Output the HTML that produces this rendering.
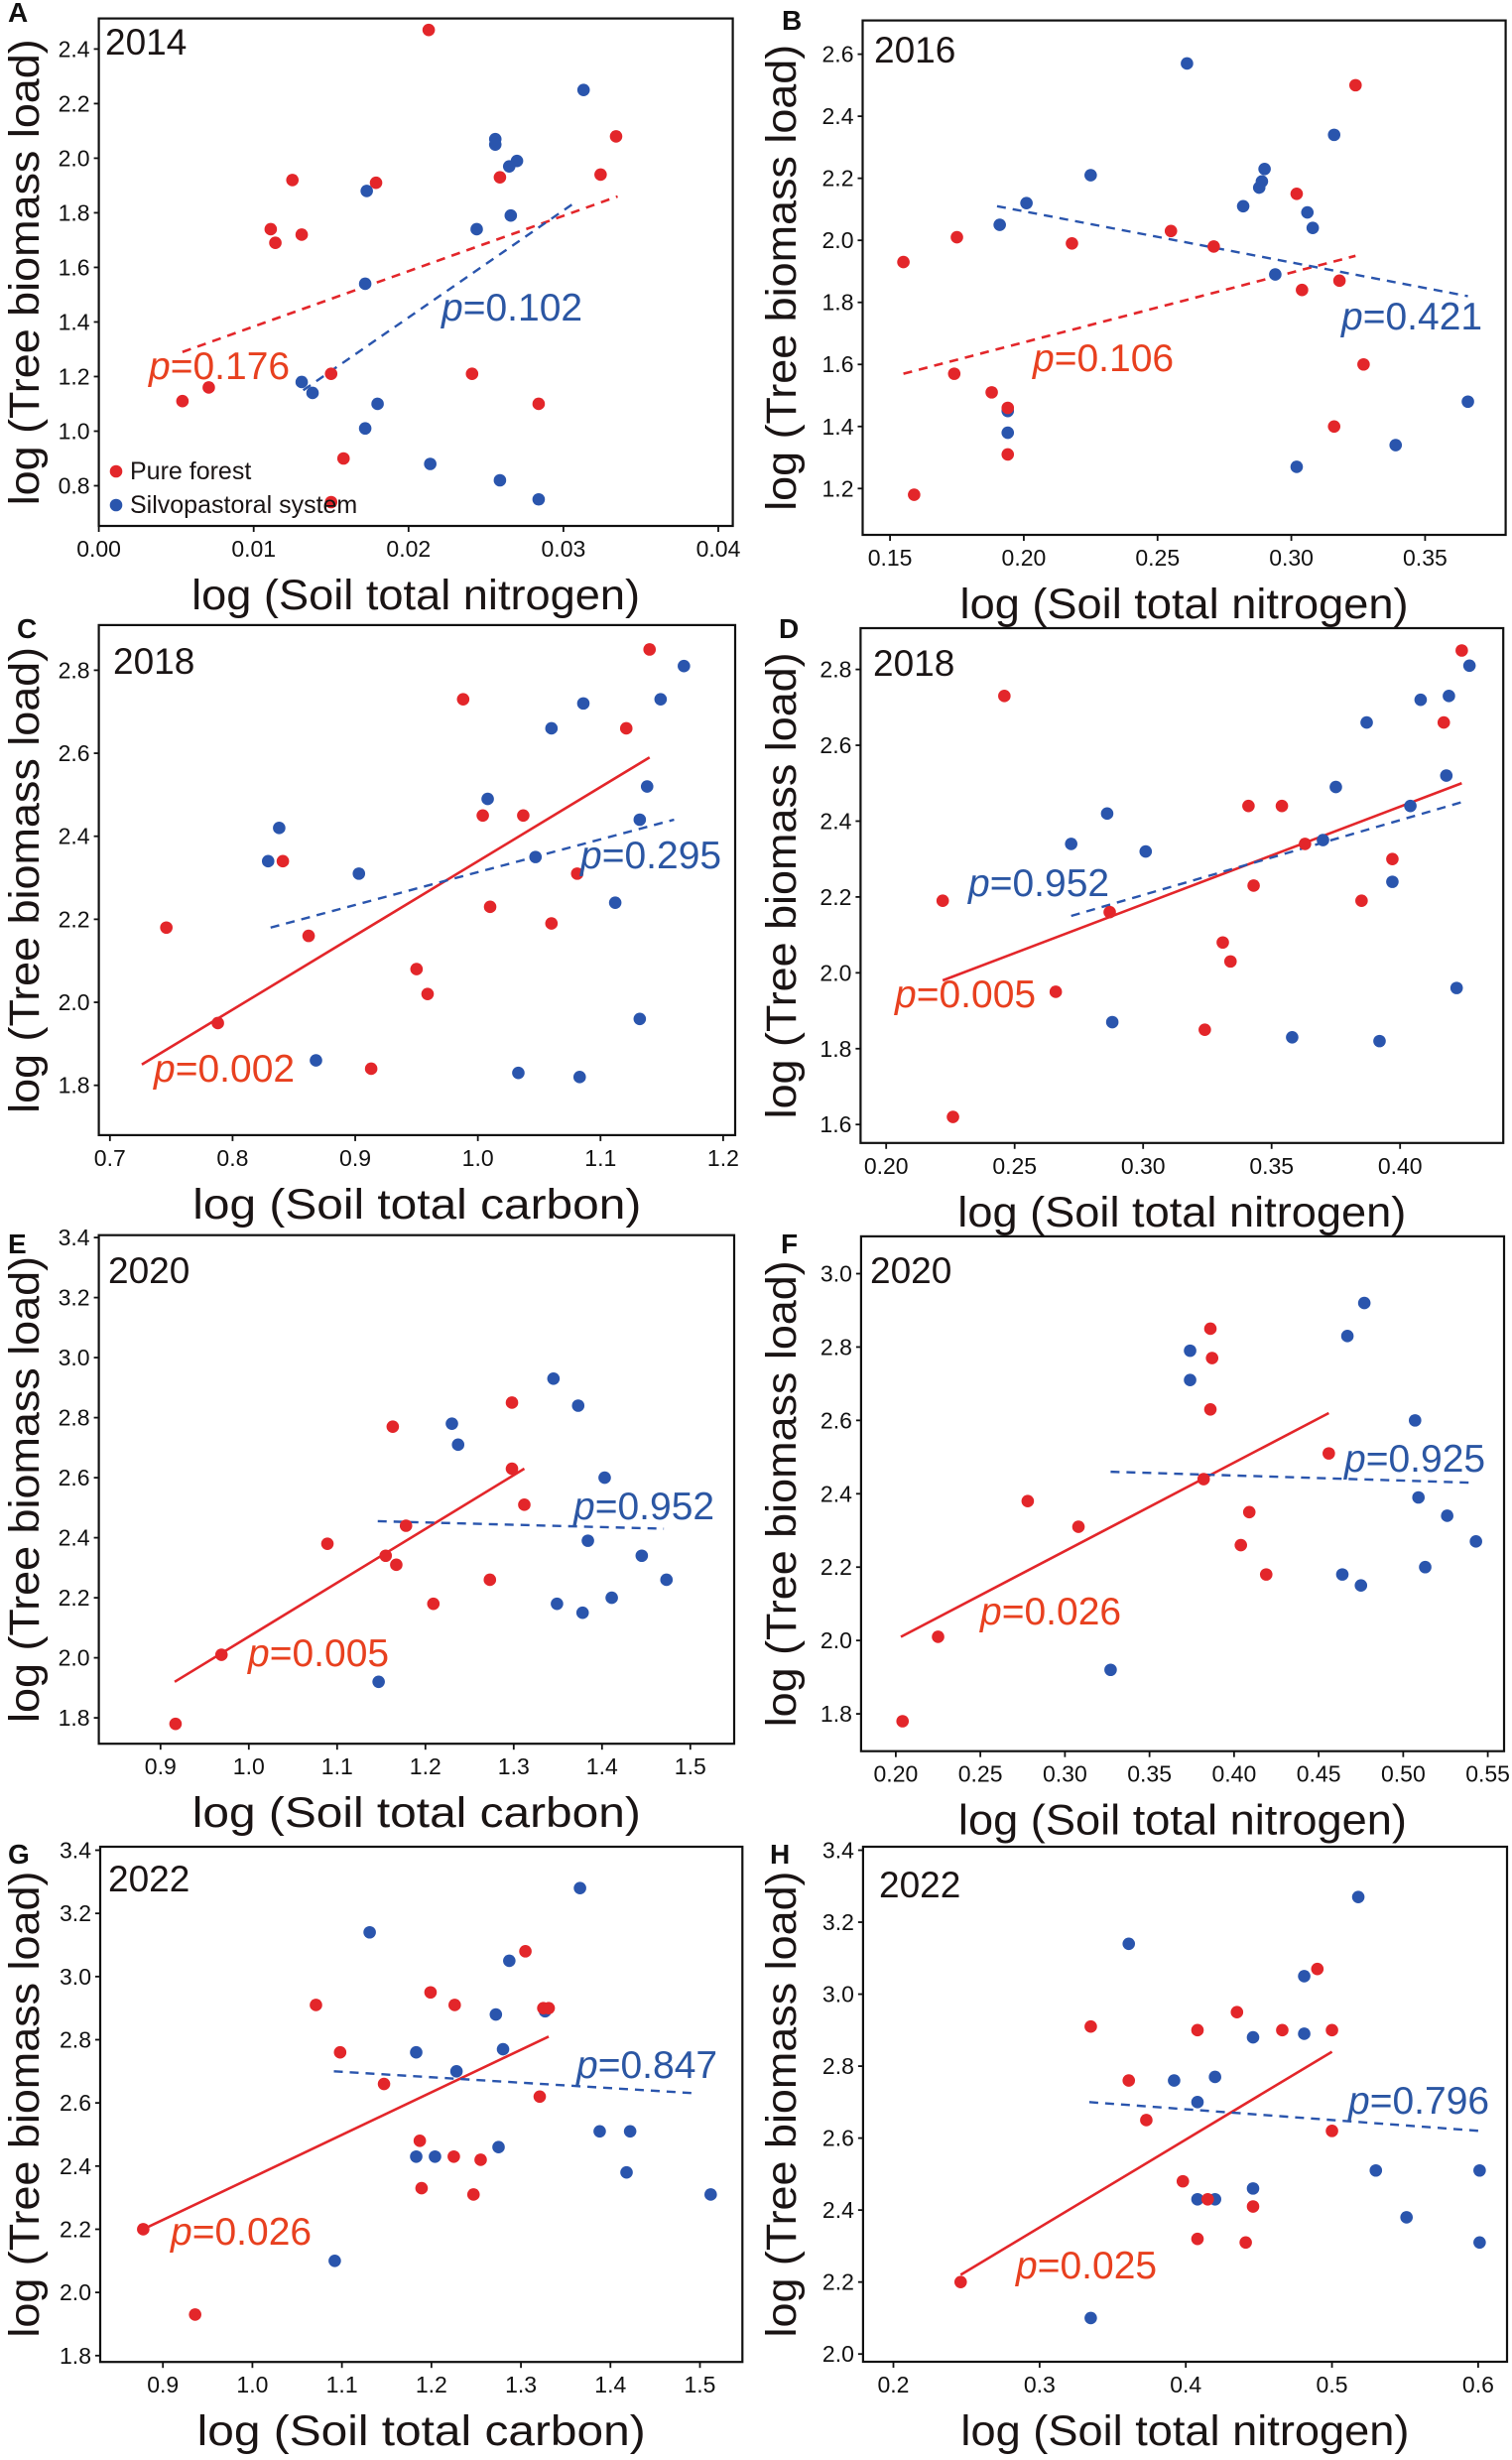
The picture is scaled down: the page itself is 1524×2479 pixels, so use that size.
<!DOCTYPE html>
<html>
<head>
<meta charset="utf-8">
<style>
html,body{margin:0;padding:0;background:#fff;}
svg{display:block;font-family:"Liberation Sans",Arial,sans-serif;}
</style>
</head>
<body>
<svg id="fig" xmlns="http://www.w3.org/2000/svg" width="1524" height="2479" viewBox="0 0 1524 2479">
<rect x="0" y="0" width="1524" height="2479" fill="#fff"/>
</svg>
<script>
// ---------- DATA ----------
// Panel A (2014, soil N)
const aRedX = [0.0213,0.0334,0.0324,0.0259,0.0179,0.0125,0.0111,0.0114,0.0131,0.0150,0.0241,0.0071,0.0054,0.0284,0.0158,0.0150];
const aRedY = [2.47,2.08,1.94,1.93,1.91,1.92,1.74,1.69,1.72,1.21,1.21,1.16,1.11,1.10,0.90,0.74];
const aBlueX = [0.0313,0.0256,0.0256,0.0270,0.0265,0.0173,0.0266,0.0244,0.0172,0.0131,0.0138,0.0180,0.0172,0.0214,0.0259,0.0284];
const aBlueY = [2.25,2.07,2.05,1.99,1.97,1.88,1.79,1.74,1.54,1.18,1.14,1.10,1.01,0.88,0.82,0.75];
const aRedFit = [0.0054,1.29,0.0335,1.86];
const aBlueFit = [0.0132,1.15,0.0308,1.84];
const aXTicks = [0,0.01,0.02,0.03,0.04];
const aYTicks = [0.8,1.0,1.2,1.4,1.6,1.8,2.0,2.2,2.4];
const aPLabels = ["0.176","0.102"];
// Panel B (2016, soil N)
const bRedX = [0.155,0.175,0.174,0.188,0.194,0.194,0.159,0.218,0.255,0.271,0.302,0.304,0.318,0.324,0.327,0.316];
const bRedY = [1.93,2.01,1.57,1.51,1.46,1.31,1.18,1.99,2.03,1.98,2.15,1.84,1.87,2.50,1.60,1.40];
const bBlueX = [0.261,0.225,0.201,0.191,0.194,0.194,0.282,0.289,0.290,0.288,0.306,0.308,0.294,0.316,0.302,0.339,0.366];
const bBlueY = [2.57,2.21,2.12,2.05,1.45,1.38,2.11,2.19,2.23,2.17,2.09,2.04,1.89,2.34,1.27,1.34,1.48];
const bRedFit = [0.155,1.57,0.324,1.95];
const bBlueFit = [0.190,2.11,0.366,1.82];
const bXTicks = [0.15,0.20,0.25,0.30,0.35];
const bYTicks = [1.2,1.4,1.6,1.8,2.0,2.2,2.4,2.6];
const bPLabels = ["0.106","0.421"];
// Panel C (2018, soil C)
const cRedX = [0.746,0.788,0.841,0.862,0.913,0.950,0.959,0.988,1.004,1.010,1.037,1.060,1.081,1.121,1.140];
const cRedY = [2.18,1.95,2.34,2.16,1.84,2.08,2.02,2.73,2.45,2.23,2.45,2.19,2.31,2.66,2.85];
const cBlueX = [0.829,0.838,0.868,0.903,1.008,1.033,1.047,1.060,1.086,1.083,1.112,1.132,1.132,1.138,1.149,1.168];
const cBlueY = [2.34,2.42,1.86,2.31,2.49,1.83,2.35,2.66,2.72,1.82,2.24,1.96,2.44,2.52,2.73,2.81];
const cRedFit = [0.726,1.85,1.14,2.59];
const cBlueFit = [0.831,2.18,1.16,2.44];
const cXTicks = [0.7,0.8,0.9,1.0,1.1,1.2];
const cYTicks = [1.8,2.0,2.2,2.4,2.6,2.8];
const cPLabels = ["0.002","0.295"];
// Panel D (2018, soil N)
const dRedX = [0.222,0.226,0.246,0.266,0.287,0.324,0.331,0.334,0.341,0.343,0.354,0.363,0.385,0.397,0.417,0.424];
const dRedY = [2.19,1.62,2.73,1.95,2.16,1.85,2.08,2.03,2.44,2.23,2.44,2.34,2.19,2.30,2.66,2.85];
const dBlueX = [0.272,0.286,0.301,0.288,0.358,0.370,0.375,0.387,0.392,0.397,0.404,0.408,0.418,0.419,0.422,0.427];
const dBlueY = [2.34,2.42,2.32,1.87,1.83,2.35,2.49,2.66,1.82,2.24,2.44,2.72,2.52,2.73,1.96,2.81];
const dRedFit = [0.222,1.98,0.424,2.50];
const dBlueFit = [0.272,2.15,0.424,2.45];
const dXTicks = [0.20,0.25,0.30,0.35,0.40];
const dYTicks = [1.6,1.8,2.0,2.2,2.4,2.6,2.8];
const dPLabels = ["0.005","0.952"];
// Panel E (2020, soil C)
const eRedX = [0.917,0.969,1.089,1.155,1.167,1.178,1.163,1.209,1.273,1.298,1.298,1.312];
const eRedY = [1.78,2.01,2.38,2.34,2.31,2.44,2.77,2.18,2.26,2.85,2.63,2.51];
const eBlueX = [1.147,1.230,1.237,1.345,1.373,1.403,1.384,1.445,1.473,1.349,1.378,1.411];
const eBlueY = [1.92,2.78,2.71,2.93,2.84,2.60,2.39,2.34,2.26,2.18,2.15,2.20];
const eRedFit = [0.916,1.92,1.312,2.63];
const eBlueFit = [1.146,2.455,1.47,2.43];
const eXTicks = [0.9,1.0,1.1,1.2,1.3,1.4,1.5];
const eYTicks = [1.8,2.0,2.2,2.4,2.6,2.8,3.0,3.2,3.4];
const ePLabels = ["0.005","0.952"];
// Panel F (2020, soil N)
const fRedX = [0.204,0.225,0.278,0.308,0.382,0.386,0.387,0.386,0.409,0.404,0.419,0.456];
const fRedY = [1.78,2.01,2.38,2.31,2.44,2.85,2.77,2.63,2.35,2.26,2.18,2.51];
const fBlueX = [0.327,0.374,0.374,0.467,0.477,0.507,0.509,0.526,0.543,0.513,0.464,0.475];
const fBlueY = [1.92,2.79,2.71,2.83,2.92,2.60,2.39,2.34,2.27,2.20,2.18,2.15];
const fRedFit = [0.203,2.01,0.456,2.62];
const fBlueFit = [0.327,2.46,0.542,2.43];
const fXTicks = [0.20,0.25,0.30,0.35,0.40,0.45,0.50,0.55];
const fYTicks = [1.8,2.0,2.2,2.4,2.6,2.8,3.0];
const fPLabels = ["0.026","0.925"];
// Panel G (2022, soil C)
const gRedX = [0.878,0.936,1.071,1.098,1.147,1.199,1.226,1.187,1.189,1.225,1.247,1.255,1.305,1.325,1.331,1.321];
const gRedY = [2.20,1.93,2.91,2.76,2.66,2.95,2.91,2.48,2.33,2.43,2.31,2.42,3.08,2.90,2.90,2.62];
const gBlueX = [1.131,1.092,1.183,1.183,1.204,1.228,1.272,1.280,1.275,1.287,1.327,1.366,1.388,1.422,1.418,1.512];
const gBlueY = [3.14,2.10,2.76,2.43,2.43,2.70,2.88,2.77,2.46,3.05,2.89,3.28,2.51,2.51,2.38,2.31];
const gRedFit = [0.878,2.20,1.331,2.81];
const gBlueFit = [1.091,2.70,1.498,2.63];
const gXTicks = [0.9,1.0,1.1,1.2,1.3,1.4,1.5];
const gYTicks = [1.8,2.0,2.2,2.4,2.6,2.8,3.0,3.2,3.4];
const gPLabels = ["0.026","0.847"];
// Panel H (2022, soil N)
const hRedX = [0.246,0.335,0.361,0.373,0.408,0.435,0.466,0.490,0.500,0.500,0.398,0.415,0.446,0.408,0.441];
const hRedY = [2.20,2.91,2.76,2.65,2.90,2.95,2.90,3.07,2.90,2.62,2.48,2.43,2.41,2.32,2.31];
const hBlueX = [0.361,0.481,0.518,0.446,0.481,0.392,0.420,0.408,0.408,0.420,0.446,0.530,0.601,0.551,0.601,0.335];
const hBlueY = [3.14,3.05,3.27,2.88,2.89,2.76,2.77,2.70,2.43,2.43,2.46,2.51,2.51,2.38,2.31,2.10];
const hRedFit = [0.246,2.22,0.500,2.84];
const hBlueFit = [0.334,2.70,0.601,2.62];
const hXTicks = [0.2,0.3,0.4,0.5,0.6];
const hYTicks = [2.0,2.2,2.4,2.6,2.8,3.0,3.2,3.4];
const hPLabels = ["0.025","0.796"];

const RED = "#e3262a", BLUE = "#2a55ad", PRED = "#e8401f", PBLUE = "#2b56a3";
const NS = "http://www.w3.org/2000/svg";
const svg = document.getElementById("fig");

function mk(tag, attrs, parent) {
  const e = document.createElementNS(NS, tag);
  for (const k in attrs) e.setAttribute(k, attrs[k]);
  (parent || svg).appendChild(e);
  return e;
}

const panels = [
  {id:"a", letter:"A", year:"2014", xt:"log (Soil total nitrogen)", L:99.6,R:738.6,T:18.6,B:530, x0:0,px0:99.6,x1:0.04,px1:724, y0:2.4,py0:49.4,y1:0.8,py1:489.5, xd:2,yd:1,
   rx:aRedX, ry:aRedY, bx:aBlueX, by:aBlueY, rf:aRedFit, bf:aBlueFit, rdash:true, xt2:aXTicks, yt2:aYTicks, pl:aPLabels, rl:[150,382], bl:[445,323], lx:8, ly:22, yx:106, yy:55},
  {id:"b", letter:"B", year:"2016", xt:"log (Soil total nitrogen)", L:869.5,R:1517.6,T:20.6,B:539, x0:0.15,px0:897.1,x1:0.35,px1:1436.4, y0:2.6,py0:54.6,y1:1.2,py1:492.3, xd:2,yd:1,
   rx:bRedX, ry:bRedY, bx:bBlueX, by:bBlueY, rf:bRedFit, bf:bBlueFit, rdash:true, xt2:bXTicks, yt2:bYTicks, pl:bPLabels, rl:[1041,374], bl:[1352,332], lx:788, ly:30, yx:881, yy:63},
  {id:"c", letter:"C", year:"2018", xt:"log (Soil total carbon)", L:99.6,R:741,T:629.9,B:1143.9, x0:0.7,px0:110.8,x1:1.2,px1:728.9, y0:2.8,py0:675.4,y1:1.8,py1:1093.7, xd:1,yd:1,
   rx:cRedX, ry:cRedY, bx:cBlueX, by:cBlueY, rf:cRedFit, bf:cBlueFit, rdash:false, xt2:cXTicks, yt2:cYTicks, pl:cPLabels, rl:[155,1090], bl:[585,875], lx:17, ly:643, yx:114, yy:679},
  {id:"d", letter:"D", year:"2018", xt:"log (Soil total nitrogen)", L:867.4,R:1515.2,T:633,B:1151.8, x0:0.20,px0:893.2,x1:0.40,px1:1411.2, y0:2.8,py0:674.6,y1:1.6,py1:1133.2, xd:2,yd:1,
   rx:dRedX, ry:dRedY, bx:dBlueX, by:dBlueY, rf:dRedFit, bf:dBlueFit, rdash:false, xt2:dXTicks, yt2:dYTicks, pl:dPLabels, rl:[902,1015], bl:[976,903], lx:785, ly:643, yx:880, yy:681},
  {id:"e", letter:"E", year:"2020", xt:"log (Soil total carbon)", L:99.6,R:740,T:1244.7,B:1757.2, x0:0.9,px0:161.8,x1:1.5,px1:695.8, y0:3.4,py0:1247.1,y1:1.8,py1:1731.1, xd:1,yd:1,
   rx:eRedX, ry:eRedY, bx:eBlueX, by:eBlueY, rf:eRedFit, bf:eBlueFit, rdash:false, xt2:eXTicks, yt2:eYTicks, pl:ePLabels, rl:[250,1679], bl:[578,1531], lx:8, ly:1263, yx:109, yy:1293},
  {id:"f", letter:"F", year:"2020", xt:"log (Soil total nitrogen)", L:867.9,R:1516,T:1245.9,B:1764.7, x0:0.20,px0:902.9,x1:0.55,px1:1499.6, y0:3.0,py0:1283.5,y1:1.8,py1:1727.1, xd:2,yd:1,
   rx:fRedX, ry:fRedY, bx:fBlueX, by:fBlueY, rf:fRedFit, bf:fBlueFit, rdash:false, xt2:fXTicks, yt2:fYTicks, pl:fPLabels, rl:[988,1637], bl:[1355,1483], lx:787, ly:1263, yx:877, yy:1293},
  {id:"g", letter:"G", year:"2022", xt:"log (Soil total carbon)", L:101,R:748.3,T:1861,B:2380.2, x0:0.9,px0:164.2,x1:1.5,px1:705.5, y0:3.4,py0:1864.5,y1:1.8,py1:2373.8, xd:1,yd:1,
   rx:gRedX, ry:gRedY, bx:gBlueX, by:gBlueY, rf:gRedFit, bf:gBlueFit, rdash:false, xt2:gXTicks, yt2:gYTicks, pl:gPLabels, rl:[172,2262], bl:[581,2094], lx:8, ly:1878, yx:109, yy:1906},
  {id:"h", letter:"H", year:"2022", xt:"log (Soil total nitrogen)", L:869.9,R:1519,T:1861,B:2380, x0:0.2,px0:900.5,x1:0.6,px1:1489.9, y0:3.4,py0:1864.5,y1:2.0,py1:2372.2, xd:1,yd:1,
   rx:hRedX, ry:hRedY, bx:hBlueX, by:hBlueY, rf:hRedFit, bf:hBlueFit, rdash:false, xt2:hXTicks, yt2:hYTicks, pl:hPLabels, rl:[1024,2296], bl:[1359,2130], lx:776, ly:1878, yx:886, yy:1912}
];

panels.forEach(p => {
  const sx = v => p.px0 + (v - p.x0) * (p.px1 - p.px0) / (p.x1 - p.x0);
  const sy = v => p.py0 + (v - p.y0) * (p.py1 - p.py0) / (p.y1 - p.y0);
  const g = mk("g", {});
  
  

  const fr = mk("rect", {x:p.L, y:p.T, width:p.R-p.L, height:p.B-p.T, fill:"none", stroke:"#111", "stroke-width":2.2}, g);
  
  

  p.xt2.forEach(v => {
    const x = sx(v);
    const t = mk("line", {x1:x, y1:p.B, x2:x, y2:p.B+6, stroke:"#111", "stroke-width":1.8}, g);
    
    
    const lb = mk("text", {x:x, y:p.B+31, "text-anchor":"middle", "font-size":23, fill:"#111"}, g);
    lb.textContent = v.toFixed(p.xd);
    
    
  });
  p.yt2.forEach(v => {
    const y = sy(v);
    const t = mk("line", {x1:p.L-5, y1:y, x2:p.L, y2:y, stroke:"#111", "stroke-width":1.8}, g);
    
    
    const lb = mk("text", {x:p.L-9, y:y+8, "text-anchor":"end", "font-size":23, fill:"#111"}, g);
    lb.textContent = v.toFixed(p.yd);
    
    
  });

  const xtl = mk("text", {x:(p.L+p.R)/2, y:p.B+84, "text-anchor":"middle", "font-size":43, fill:"#1a1414", textLength:452, lengthAdjust:"spacingAndGlyphs"}, g);
  xtl.textContent = p.xt;
  
  
  const ybx = p.L < 400 ? 39 : 802;
  const ycy = (p.T + p.B) / 2;
  const ytl = mk("text", {x:ybx, y:ycy, transform:"rotate(-90 " + ybx + " " + ycy + ")", "text-anchor":"middle", "font-size":43, fill:"#1a1414", textLength:470, lengthAdjust:"spacingAndGlyphs"}, g);
  ytl.textContent = "log (Tree biomass load)";
  
  

  const let_ = mk("text", {x:p.lx, y:p.ly, "font-size":28, "font-weight":"bold", fill:"#111"}, g);
  let_.textContent = p.letter;
  
  
  const yr = mk("text", {x:p.yx, y:p.yy, "font-size":37, fill:"#1a1414"}, g);
  yr.textContent = p.year;
  
  

  const rl = mk("line", {x1:sx(p.rf[0]), y1:sy(p.rf[1]), x2:sx(p.rf[2]), y2:sy(p.rf[3]), stroke:RED, "stroke-width":2.6}, g);
  if (p.rdash) rl.setAttribute("stroke-dasharray", "9 7");
  
  
  const bl = mk("line", {x1:sx(p.bf[0]), y1:sy(p.bf[1]), x2:sx(p.bf[2]), y2:sy(p.bf[3]), stroke:BLUE, "stroke-width":2.4, "stroke-dasharray":"9 7"}, g);
  
  

  p.bx.forEach((v, i) => {
    const c = mk("circle", {cx:sx(v), cy:sy(p.by[i]), r:6.3, fill:BLUE}, g);
    
    
  });
  p.rx.forEach((v, i) => {
    const c = mk("circle", {cx:sx(v), cy:sy(p.ry[i]), r:6.3, fill:RED}, g);
    
    
  });

  const pr = mk("text", {x:p.rl[0], y:p.rl[1], "font-size":39, fill:PRED}, g);
  pr.innerHTML = '<tspan font-style="italic">p</tspan>=' + p.pl[0];
  
  
  const pb = mk("text", {x:p.bl[0], y:p.bl[1], "font-size":39, fill:PBLUE}, g);
  pb.innerHTML = '<tspan font-style="italic">p</tspan>=' + p.pl[1];
  
  
});

const lg = mk("g", {});


const l1 = mk("circle", {cx:117, cy:475, r:6.3, fill:RED}, lg);


const t1 = mk("text", {x:131, y:483, "font-size":25, fill:"#1a1414"}, lg);
t1.textContent = "Pure forest";


const l2 = mk("circle", {cx:117, cy:509, r:6.3, fill:BLUE}, lg);


const t2 = mk("text", {x:131, y:517, "font-size":25, fill:"#1a1414"}, lg);
t2.textContent = "Silvopastoral system";


</script>
</body>
</html>
